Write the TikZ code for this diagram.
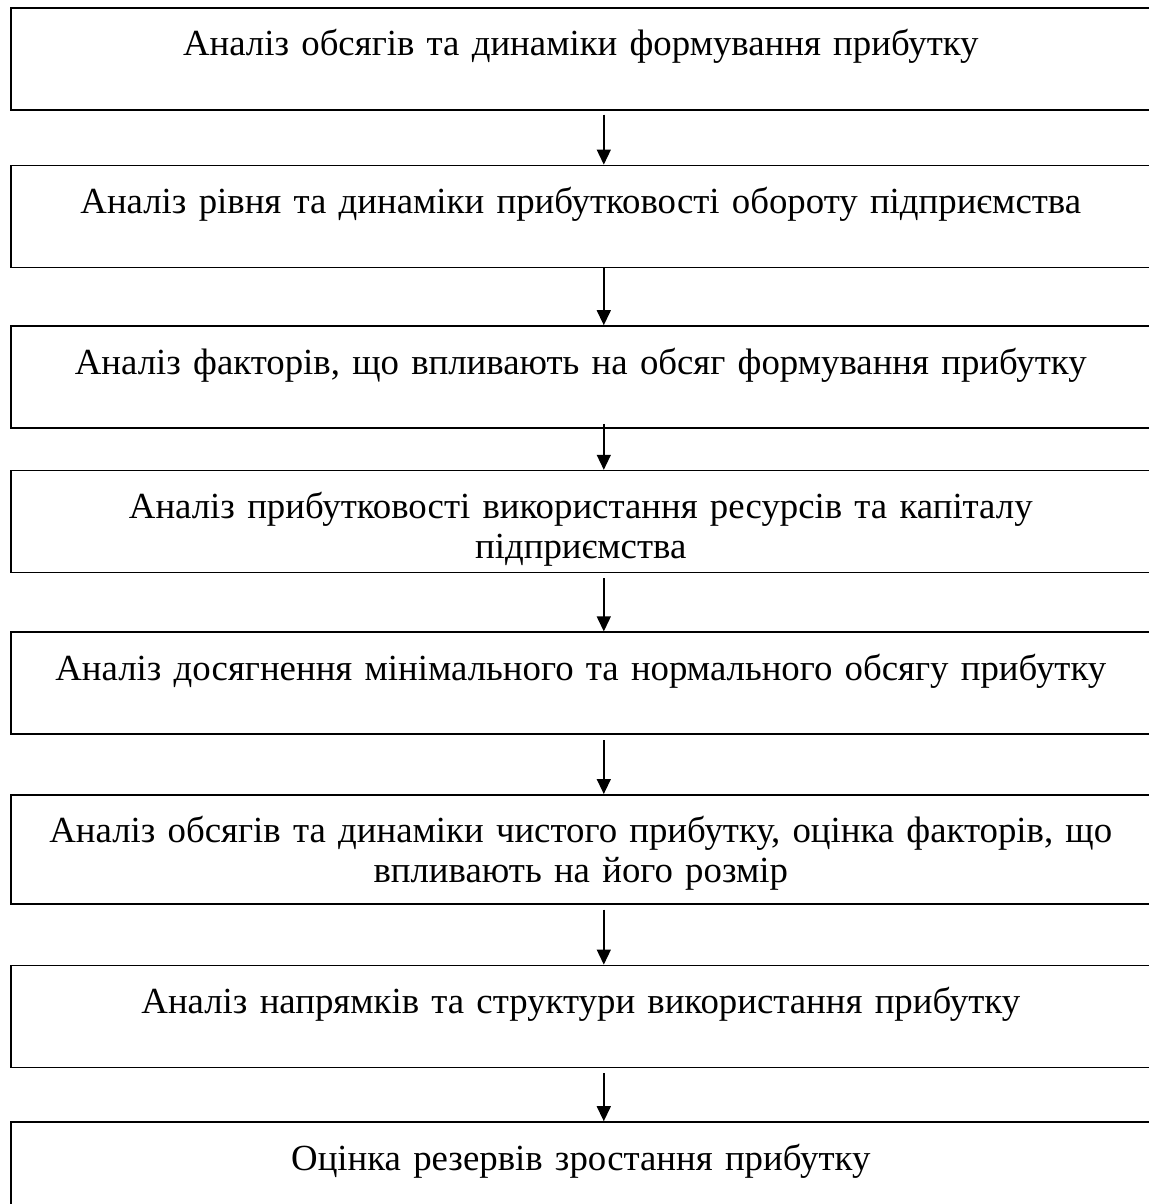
\documentclass[tikz,border=0pt]{standalone}
\usepackage{fontspec}
\setmainfont{Liberation Serif}
\usetikzlibrary{arrows.meta,positioning}
\tikzset{
  stagebox/.style={rectangle,draw=black,line width=0.8pt,minimum width=570pt,
    text width=550pt,inner xsep=10pt,inner ysep=8pt,align=center,
    text height=16pt,text depth=19pt,font=\fontsize{18.4}{20}\selectfont},
  arrow/.style={-{Triangle[length=7.5pt,width=7pt]},line width=0.7pt}
}
\begin{document}
\begin{tikzpicture}[node distance=27pt]
  \useasboundingbox (0,0) rectangle (574pt,-602pt);
  \node[stagebox, anchor=north west] (s1) at (5pt,-3.5pt) {Аналіз обсягів та динаміки формування прибутку};
  \node[stagebox, below=of s1] (s2) {Аналіз рівня та динаміки прибутковості обороту підприємства};
  \node[stagebox, below=28.5pt of s2] (s3) {Аналіз факторів, що впливають на обсяг формування прибутку};
  \node[stagebox, below=20.5pt of s3] (s4) {Аналіз прибутковості використання ресурсів та капіталу\\підприємства};
  \node[stagebox, below=29pt of s4] (s5) {Аналіз досягнення мінімального та нормального обсягу прибутку};
  \node[stagebox, below=29.5pt of s5, text depth=22.5pt] (s6) {Аналіз обсягів та динаміки чистого прибутку, оцінка факторів, що\\впливають на його розмір};
  \node[stagebox, below=30pt of s6] (s7) {Аналіз напрямків та структури використання прибутку};
  \node[stagebox, below=26.5pt of s7] (s8) {Оцінка резервів зростання прибутку};
  \draw[arrow] ([xshift=11.5pt,yshift=-2pt]s1.south) -- ([xshift=11.5pt]s2.north);
  \draw[arrow] ([xshift=11.5pt]s2.south) -- ([xshift=11.5pt]s3.north);
  \draw[arrow] ([xshift=11.5pt,yshift=2.5pt]s3.south) -- ([xshift=11.5pt]s4.north);
  \draw[arrow] ([xshift=11.5pt,yshift=-2.5pt]s4.south) -- ([xshift=11.5pt]s5.north);
  \draw[arrow] ([xshift=11.5pt,yshift=-2.5pt]s5.south) -- ([xshift=11.5pt]s6.north);
  \draw[arrow] ([xshift=11.5pt,yshift=-2.5pt]s6.south) -- ([xshift=11.5pt]s7.north);
  \draw[arrow] ([xshift=11.5pt,yshift=-2.5pt]s7.south) -- ([xshift=11.5pt]s8.north);
\end{tikzpicture}
\end{document}
